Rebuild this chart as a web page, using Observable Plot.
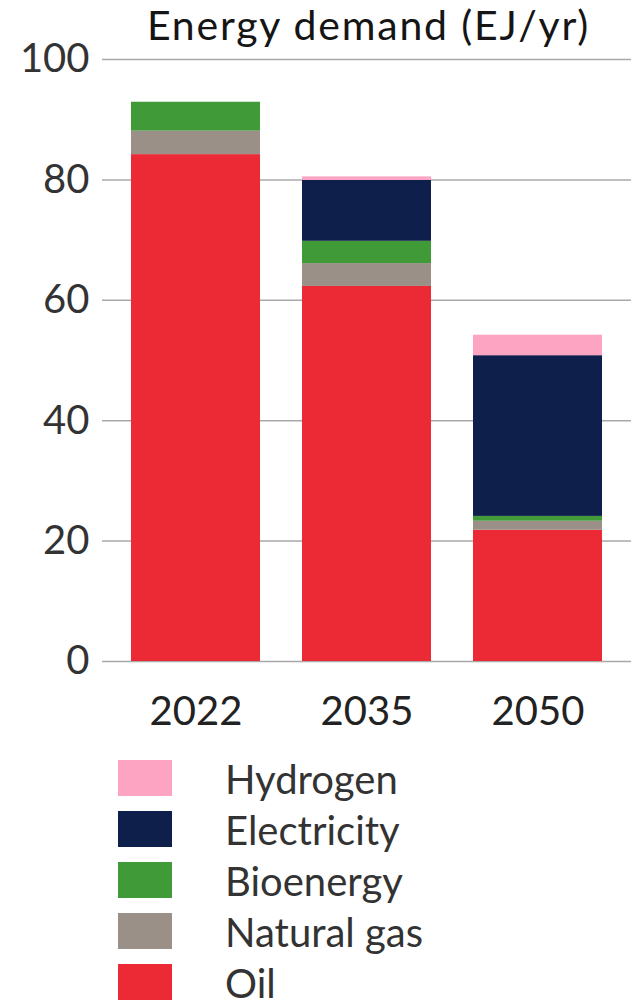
<!DOCTYPE html>
<html>
<head>
<meta charset="utf-8">
<script src="https://cdn.jsdelivr.net/npm/d3@7"></script>
<script src="https://cdn.jsdelivr.net/npm/@observablehq/plot@0.6"></script>
<style>
  html, body { margin: 0; padding: 0; background: #fff; }
  body { width: 631px; height: 1006px; overflow: hidden; font-family: Lato, "Noto Sans", sans-serif; }
  #wrap { position: relative; width: 631px; }
  #title { position: absolute; top: 3px; left: 104px; width: 529px; text-align: center;
           font-size: 41px; letter-spacing: 1.8px; color: #151515; line-height: 44px; }
  #legend { position: relative; margin-top: 12px; }
  .row { display: flex; align-items: center; height: 51px; }
  .sw { width: 54px; height: 36px; margin-left: 118px; }
  .lab { margin-left: 53px; font-size: 40px; color: #333; line-height: 34px; position: relative; top: 1px; }
</style>
</head>
<body>
<div id="wrap">
  <div id="chart"></div>
  <div id="title">Energy demand (EJ/yr)</div>
</div>
<div id="legend"></div>
<script>
// Energy demand by carrier, EJ per year
const years = ["2022", "2035", "2050"];
const fuels = ["Oil", "Natural gas", "Bioenergy", "Electricity", "Hydrogen"];
const colors = ["#ec2a35", "#9a9087", "#3f9a37", "#0f1f4b", "#fda4c2"];
const oil = [84.2, 62.3, 21.8];
const naturalGas = [3.9, 3.8, 1.5];
const bioenergy = [4.8, 3.7, 0.8];
const electricity = [0, 10.1, 26.7];
const hydrogen = [0, 0.6, 3.4];
const yTicks = [0, 20, 40, 60, 80, 100];

const series = [oil, naturalGas, bioenergy, electricity, hydrogen];
const rows = [];
years.forEach((year, i) => {
  fuels.forEach((fuel, j) => rows.push({year, fuel, value: series[j][i]}));
});

const chart = Plot.plot({
  width: 631,
  height: 740,
  marginTop: 59,
  marginBottom: 79,
  marginLeft: 102,
  marginRight: 0,
  style: {fontFamily: "Lato, 'Noto Sans', sans-serif", fontSize: "40px", color: "#333", overflow: "visible"},
  x: {domain: years, paddingInner: 0.244, paddingOuter: 0.16, label: null},
  y: {domain: [0, 100], label: null},
  color: {domain: fuels, range: colors},
  marks: [
    Plot.ruleY(yTicks, {stroke: "#a8a8a8", strokeWidth: 1.5}),
    Plot.barY(rows, Plot.stackY({x: "year", y: "value", fill: "fuel", order: fuels})),
    Plot.axisX({tickSize: 0, tickPadding: 35, fontSize: 40, fill: "#222"}),
    Plot.axisY({ticks: yTicks, tickSize: 0, tickPadding: 13, fontSize: 40, fill: "#333"})
  ]
});
document.getElementById("chart").appendChild(chart);

// Legend rows, top carrier first
const legend = d3.select("#legend");
fuels.slice().reverse().forEach(fuel => {
  const row = legend.append("div").attr("class", "row");
  row.append("div").attr("class", "sw").style("background", colors[fuels.indexOf(fuel)]);
  row.append("div").attr("class", "lab").text(fuel);
});
</script>
</body>
</html>
